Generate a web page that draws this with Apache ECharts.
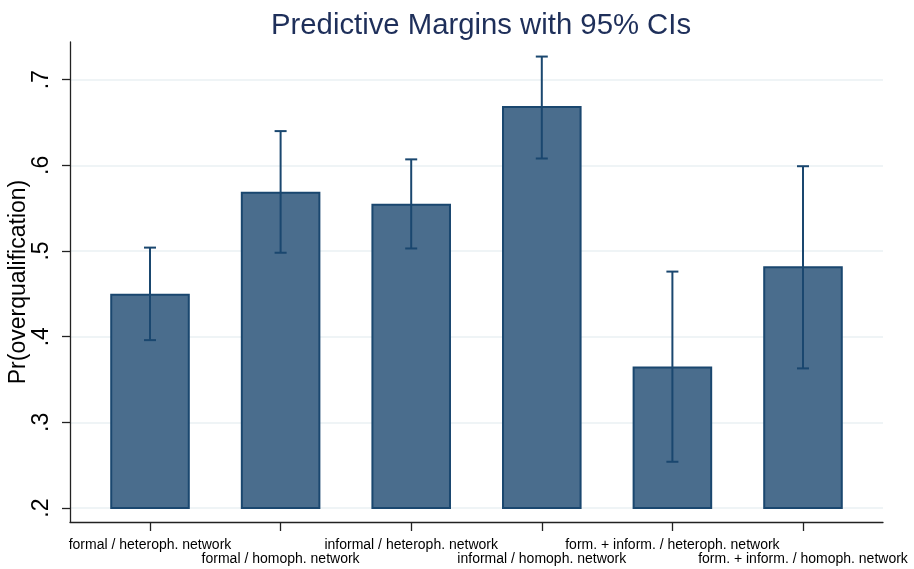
<!DOCTYPE html>
<html>
<head>
<meta charset="utf-8">
<script src="https://cdn.jsdelivr.net/npm/echarts@6/dist/echarts.min.js"></script>
<style>
html,body{margin:0;padding:0;background:#fff;}
#chart{width:914px;height:569px;}
</style>
</head>
<body>
<div id="chart"></div>
<script>
const categories = [
  'formal / heteroph. network',
  'formal / homoph. network',
  'informal / heteroph. network',
  'informal / homoph. network',
  'form. + inform. / heteroph. network',
  'form. + inform. / homoph. network'
];
const margins = [0.449, 0.568, 0.554, 0.668, 0.364, 0.481];
const ciLower = [0.396, 0.498, 0.503, 0.608, 0.254, 0.363];
const ciUpper = [0.504, 0.640, 0.607, 0.727, 0.476, 0.599];
const yTicks = [0.2, 0.3, 0.4, 0.5, 0.6, 0.7];
const barBase = 0.2;

const positions = categories.map((c, i) => i);
const upperRow = positions.filter(i => i % 2 === 0);
const lowerRow = positions.filter(i => i % 2 === 1);
const barData = categories.map((c, i) => [i, margins[i]]);
const errData = categories.map((c, i) => [i, ciLower[i], ciUpper[i]]);

const NAVY = '#1a476f';
const FILL = '#4a6d8d';
const FONT = 'Liberation Sans, Arial, sans-serif';
const X_MIN = -0.6126, X_MAX = 5.6126;

function labelStyle(margin) {
  return {
    margin: margin,
    showMinLabel: true,
    showMaxLabel: true,
    hideOverlap: false,
    fontFamily: FONT,
    fontSize: 14,
    color: '#000',
    formatter: function (v) { return categories[Math.round(v)]; }
  };
}

const chart = echarts.init(document.getElementById('chart'));
chart.setOption({
  backgroundColor: '#ffffff',
  animation: false,
  title: {
    text: 'Predictive Margins with 95% CIs',
    left: 266,
    top: 6,
    textStyle: { fontFamily: FONT, fontSize: 29.3, fontWeight: 'normal', color: '#1e2f5a' }
  },
  grid: { left: 70, right: 31, top: 42, bottom: 47, containLabel: false, outerBoundsMode: 'none' },
  xAxis: [
    {
      type: 'value',
      min: X_MIN,
      max: X_MAX,
      position: 'bottom',
      axisLine: { show: true, onZero: false, lineStyle: { color: '#222', width: 1.3 } },
      axisTick: { show: true, customValues: positions, length: 9, lineStyle: { color: '#222', width: 1.3 } },
      axisLabel: Object.assign({ customValues: upperRow }, labelStyle(16)),
      splitLine: { show: false }
    },
    {
      type: 'value',
      min: X_MIN,
      max: X_MAX,
      position: 'bottom',
      axisLine: { show: false, onZero: false },
      axisTick: { show: false },
      axisLabel: Object.assign({ customValues: lowerRow }, labelStyle(30)),
      splitLine: { show: false }
    }
  ],
  yAxis: {
    type: 'value',
    min: 0.1837,
    max: 0.744,
    name: 'Pr(overqualification)',
    nameLocation: 'middle',
    nameRotate: 90,
    nameGap: 40,
    nameMoveOverlap: false,
    nameTextStyle: { fontFamily: FONT, fontSize: 23, color: '#000' },
    axisLine: { show: true, onZero: false, lineStyle: { color: '#222', width: 1.3 } },
    axisTick: { show: true, customValues: yTicks, length: 8, lineStyle: { color: '#222', width: 1.3 } },
    axisLabel: {
      customValues: yTicks,
      showMinLabel: true,
      showMaxLabel: true,
      rotate: 90,
      margin: 17,
      fontFamily: FONT,
      fontSize: 23,
      color: '#000',
      formatter: function (v) { return v.toFixed(1).replace(/^0/, ''); }
    },
    splitLine: { show: true, lineStyle: { color: '#eaf0f3', width: 1.5 } }
  },
  series: [
    {
      type: 'custom',
      name: 'margins',
      data: barData,
      xAxisIndex: 0,
      encode: { x: 0, y: 1 },
      renderItem: function (params, api) {
        const x = api.value(0);
        const top = api.coord([x, api.value(1)]);
        const base = api.coord([x, barBase]);
        const w = api.size([0.594, 0])[0];
        return {
          type: 'rect',
          shape: { x: top[0] - w / 2, y: top[1], width: w, height: base[1] - top[1] },
          style: { fill: FILL, stroke: NAVY, lineWidth: 2 }
        };
      },
      z: 2
    },
    {
      type: 'custom',
      name: 'ci',
      data: errData,
      xAxisIndex: 0,
      encode: { x: 0, y: [1, 2] },
      renderItem: function (params, api) {
        const x = api.value(0);
        const lo = api.coord([x, api.value(1)]);
        const hi = api.coord([x, api.value(2)]);
        const cap = 6;
        const style = { stroke: NAVY, lineWidth: 2 };
        return {
          type: 'group',
          children: [
            { type: 'line', shape: { x1: lo[0], y1: lo[1], x2: hi[0], y2: hi[1] }, style: style },
            { type: 'line', shape: { x1: lo[0] - cap, y1: lo[1], x2: lo[0] + cap, y2: lo[1] }, style: style },
            { type: 'line', shape: { x1: hi[0] - cap, y1: hi[1], x2: hi[0] + cap, y2: hi[1] }, style: style }
          ]
        };
      },
      z: 3
    }
  ]
});
</script>
</body>
</html>
